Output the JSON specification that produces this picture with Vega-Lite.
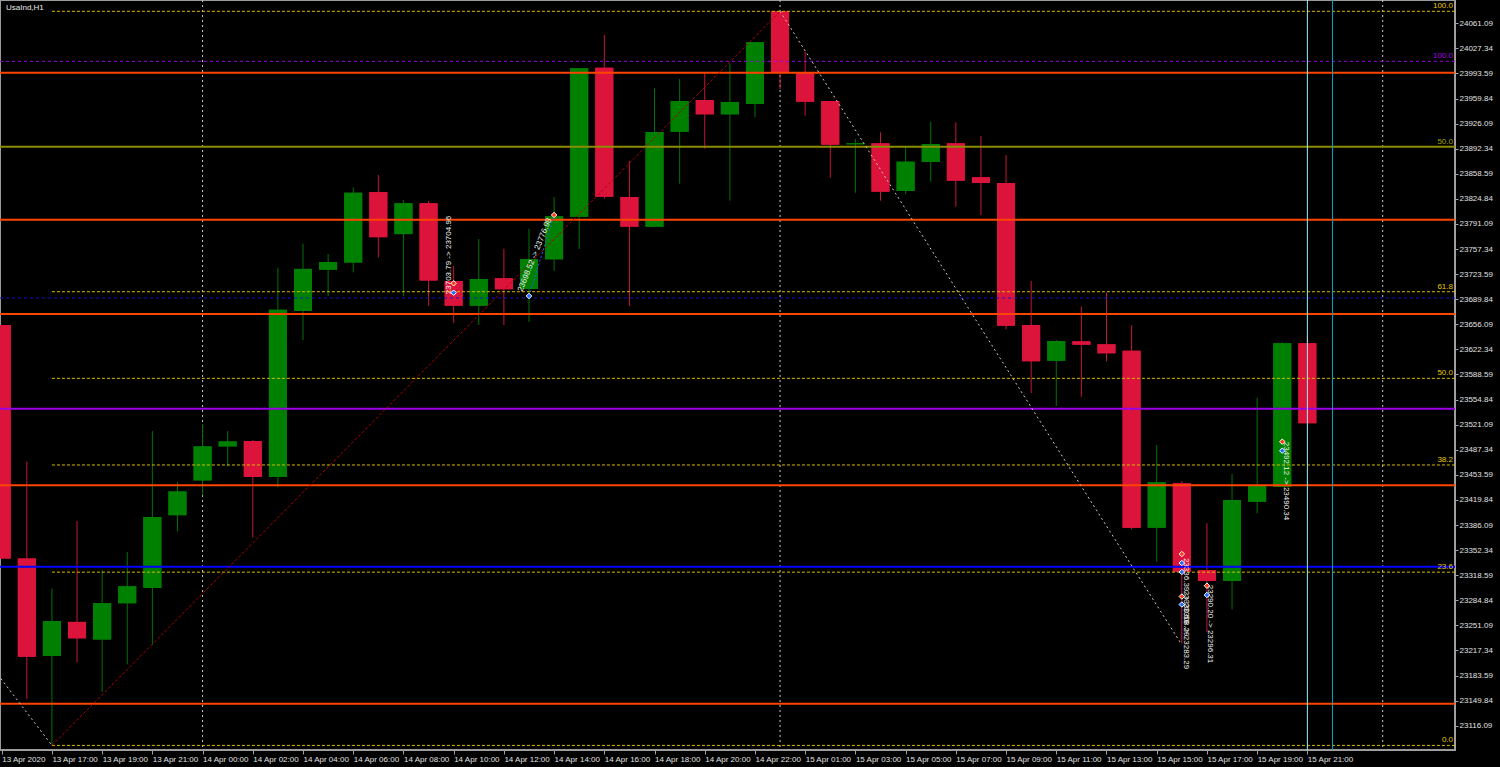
{
  "$schema": "https://vega.github.io/schema/vega-lite/v6.json",
  "width": 1455,
  "height": 750,
  "autosize": {"type": "none"},
  "padding": {"left": 0, "top": 0, "right": 45, "bottom": 17},
  "background": "#000000",
  "config": {
    "view": {"stroke": "#9A9A9A", "strokeWidth": 2, "fill": "#000000"},
    "axis": {"domainColor": "#A0A0A0", "tickColor": "#A0A0A0", "labelColor": "#E0E0E0", "labelFont": "Liberation Sans", "labelFontSize": 8, "grid": false, "labelOverlap": false, "labelSeparation": 0, "labelBound": false, "labelFlush": false}
  },
  "datasets": {
    "candles": [
      {"i":0,"o":23655.05,"h":23655.05,"l":23341.17,"c":23341.17,"d":"down"},
      {"i":1,"o":23341.17,"h":23471.27,"l":23152.27,"c":23208.92,"d":"down"},
      {"i":2,"o":23209.99,"h":23300.54,"l":23089.58,"c":23256.81,"d":"up"},
      {"i":3,"o":23255.74,"h":23391.49,"l":23201.25,"c":23233.67,"d":"down"},
      {"i":4,"o":23232.06,"h":23325.70,"l":23161.56,"c":23280.90,"d":"up"},
      {"i":5,"o":23280.90,"h":23349.91,"l":23198.69,"c":23303.63,"d":"up"},
      {"i":6,"o":23301.48,"h":23512.44,"l":23224.39,"c":23396.73,"d":"up"},
      {"i":7,"o":23399.29,"h":23443.55,"l":23377.63,"c":23431.18,"d":"up"},
      {"i":8,"o":23446.11,"h":23521.72,"l":23426.07,"c":23491.85,"d":"up"},
      {"i":9,"o":23491.85,"h":23512.44,"l":23464.68,"c":23498.58,"d":"up"},
      {"i":10,"o":23499.12,"h":23500.60,"l":23369.42,"c":23450.68,"d":"down"},
      {"i":11,"o":23450.68,"h":23732.14,"l":23436.83,"c":23675.63,"d":"up"},
      {"i":12,"o":23674.02,"h":23764.57,"l":23634.87,"c":23730.66,"d":"up"},
      {"i":13,"o":23729.59,"h":23750.71,"l":23694.07,"c":23739.95,"d":"up"},
      {"i":14,"o":23739.41,"h":23840.18,"l":23725.95,"c":23833.05,"d":"up"},
      {"i":15,"o":23833.99,"h":23857.13,"l":23746.00,"c":23773.31,"d":"down"},
      {"i":16,"o":23777.48,"h":23823.23,"l":23694.07,"c":23819.06,"d":"up"},
      {"i":17,"o":23819.06,"h":23822.15,"l":23680.75,"c":23715.05,"d":"down"},
      {"i":18,"o":23714.38,"h":23734.56,"l":23657.88,"c":23681.15,"d":"down"},
      {"i":19,"o":23681.15,"h":23770.89,"l":23655.18,"c":23717.07,"d":"up"},
      {"i":20,"o":23718.01,"h":23757.84,"l":23655.18,"c":23703.22,"d":"down"},
      {"i":21,"o":23703.62,"h":23784.34,"l":23659.22,"c":23743.98,"d":"up"},
      {"i":22,"o":23743.58,"h":23827.40,"l":23728.24,"c":23801.43,"d":"up"},
      {"i":23,"o":23800.89,"h":24000.55,"l":23757.44,"c":24000.55,"d":"up"},
      {"i":24,"o":24001.36,"h":24045.35,"l":23825.11,"c":23827.80,"d":"down"},
      {"i":25,"o":23827.40,"h":23875.83,"l":23680.75,"c":23787.44,"d":"down"},
      {"i":26,"o":23787.44,"h":23973.64,"l":23787.44,"c":23914.85,"d":"up"},
      {"i":27,"o":23915.25,"h":23986.15,"l":23845.29,"c":23956.55,"d":"up"},
      {"i":28,"o":23957.90,"h":23993.82,"l":23892.38,"c":23938.66,"d":"down"},
      {"i":29,"o":23938.66,"h":24007.28,"l":23822.42,"c":23955.21,"d":"up"},
      {"i":30,"o":23952.52,"h":24035.53,"l":23934.62,"c":24035.53,"d":"up"},
      {"i":31,"o":24077.24,"h":24077.24,"l":23972.30,"c":23994.63,"d":"down"},
      {"i":32,"o":23995.57,"h":24022.88,"l":23936.78,"c":23955.61,"d":"down"},
      {"i":33,"o":23956.55,"h":23956.55,"l":23853.36,"c":23897.76,"d":"down"},
      {"i":34,"o":23898.30,"h":23905.43,"l":23833.18,"c":23899.64,"d":"up"},
      {"i":35,"o":23899.64,"h":23914.44,"l":23822.42,"c":23834.53,"d":"down"},
      {"i":36,"o":23835.47,"h":23895.07,"l":23831.03,"c":23874.89,"d":"up"},
      {"i":37,"o":23874.49,"h":23928.70,"l":23847.98,"c":23898.70,"d":"up"},
      {"i":38,"o":23899.64,"h":23927.90,"l":23814.35,"c":23849.33,"d":"down"},
      {"i":39,"o":23853.90,"h":23909.47,"l":23803.18,"c":23846.23,"d":"down"},
      {"i":40,"o":23846.23,"h":23883.90,"l":23649.40,"c":23654.24,"d":"down"},
      {"i":41,"o":23655.18,"h":23714.38,"l":23563.29,"c":23606.35,"d":"down"},
      {"i":42,"o":23607.15,"h":23635.00,"l":23546.21,"c":23633.66,"d":"up"},
      {"i":43,"o":23633.25,"h":23679.81,"l":23558.72,"c":23628.68,"d":"down"},
      {"i":44,"o":23629.22,"h":23698.64,"l":23606.35,"c":23617.11,"d":"down"},
      {"i":45,"o":23620.61,"h":23654.78,"l":23380.32,"c":23382.47,"d":"down"},
      {"i":46,"o":23382.47,"h":23493.74,"l":23336.73,"c":23443.55,"d":"up"},
      {"i":47,"o":23442.21,"h":23445.30,"l":23226.94,"c":23323.27,"d":"down"},
      {"i":48,"o":23325.56,"h":23388.39,"l":23242.55,"c":23310.76,"d":"down"},
      {"i":49,"o":23310.76,"h":23454.72,"l":23272.69,"c":23419.74,"d":"up"},
      {"i":50,"o":23417.45,"h":23557.37,"l":23401.84,"c":23438.58,"d":"up"},
      {"i":51,"o":23437.63,"h":23631.91,"l":23437.63,"c":23630.56,"d":"up"},
      {"i":52,"o":23630.56,"h":23640.39,"l":23522.93,"c":23522.93,"d":"down"}
    ],
    "hlines": [
      {"p":23994.63,"k":"orange"},
      {"p":23796.86,"k":"orange"},
      {"p":23669.98,"k":"orange"},
      {"p":23439.52,"k":"orange"},
      {"p":23145.68,"k":"orange"},
      {"p":23895.07,"k":"olive"},
      {"p":23542.57,"k":"purple"},
      {"p":23330.00,"k":"blue"}
    ],
    "dlines": [
      {"p":24009.97,"k":"purple"},
      {"p":23691.51,"k":"blue"}
    ],
    "fib": [
      {"p":24077.24,"lv":"100.0"},
      {"p":23699.95,"lv":"61.8"},
      {"p":23583.41,"lv":"50.0"},
      {"p":23466.86,"lv":"38.2"},
      {"p":23322.67,"lv":"23.6"},
      {"p":23089.58,"lv":"0.0"}
    ],
    "flabels": [
      {"p":24077.24,"t":"100.0","k":"yellow"},
      {"p":24009.97,"t":"100.0","k":"purple"},
      {"p":23895.07,"t":"50.0","k":"olive"},
      {"p":23699.95,"t":"61.8","k":"yellow"},
      {"p":23583.41,"t":"50.0","k":"yellow"},
      {"p":23466.86,"t":"38.2","k":"yellow"},
      {"p":23322.67,"t":"23.6","k":"yellow"},
      {"p":23089.58,"t":"0.0","k":"yellow"}
    ],
    "seps": [{"i":8},{"i":31},{"i":55}],
    "vlines": [{"i":52,"k":"cyan"},{"i":53,"k":"teal"}],
    "trend": [
      {"id":"fibtrend","i":2,"p":23089.58},
      {"id":"fibtrend","i":31,"p":24077.24}
    ],
    "trend2": [
      {"id":"down","i":31,"p":24077.24},
      {"id":"down","i":46.93,"p":23228.7},
      {"id":"left","i":-1,"p":23222.2},
      {"id":"left","i":2,"p":23089.58}
    ],
    "tradeline": [
      {"i":21,"p":23694.2},
      {"i":22,"p":23803.18}
    ],
    "deals": [
      {"i":18,"p":23711.29,"s":"sell"},
      {"i":18,"p":23698.64,"s":"buy"},
      {"i":21,"p":23694.20,"s":"buy"},
      {"i":22,"p":23803.18,"s":"sell"},
      {"i":47,"p":23347.09,"s":"sell"},
      {"i":47,"p":23334.98,"s":"buy"},
      {"i":47,"p":23322.87,"s":"buy"},
      {"i":47,"p":23289.91,"s":"sell"},
      {"i":47,"p":23279.15,"s":"buy"},
      {"i":48,"p":23304.44,"s":"sell"},
      {"i":48,"p":23291.93,"s":"buy"},
      {"i":51,"p":23498.18,"s":"sell"},
      {"i":51,"p":23486.07,"s":"buy"}
    ],
    "notes": [
      {"i":17.83,"p":23749.4,"t":"23703.79 -> 23704.96","o":"up"},
      {"i":21.24,"p":23749.4,"t":"23698.52 -> 23776.98","o":"diag"},
      {"i":47.15,"p":23289.0,"t":"23336.39 -> 23308.29","o":"down"},
      {"i":47.15,"p":23245.0,"t":"23330.59 -> 23283.29","o":"down"},
      {"i":48.14,"p":23252.9,"t":"23290.20 -> 23296.31","o":"down"},
      {"i":51.15,"p":23445.3,"t":"23492.12 -> 23490.34","o":"down"}
    ],
    "caption": [{"t":"UsaInd,H1"}]
  },
  "resolve": {"scale": {"color": "independent"}},
  "layer": [
    {
      "data": {"name": "candles"},
      "mark": {"type": "bar", "size": 18, "orient": "vertical"},
      "encoding": {
        "x": {"field": "i", "type": "quantitative", "title": null, "scale": {"domain": [-0.068, 57.88], "nice": false, "zero": false, "padding": 0},
          "axis": {"title": null, "orient": "bottom", "tickCount": 60, "values": [0,2,4,6,8,10,12,14,16,18,20,22,24,26,28,30,32,34,36,38,40,42,44,46,48,50,52],
            "labelExpr": "['13 Apr 2020','13 Apr 17:00','13 Apr 19:00','13 Apr 21:00','14 Apr 00:00','14 Apr 02:00','14 Apr 04:00','14 Apr 06:00','14 Apr 08:00','14 Apr 10:00','14 Apr 12:00','14 Apr 14:00','14 Apr 16:00','14 Apr 18:00','14 Apr 20:00','14 Apr 22:00','15 Apr 01:00','15 Apr 03:00','15 Apr 05:00','15 Apr 07:00','15 Apr 09:00','15 Apr 11:00','15 Apr 13:00','15 Apr 15:00','15 Apr 17:00','15 Apr 19:00','15 Apr 21:00'][round(datum.value/2)]",
            "labelAlign": "left", "labelBaseline": "top", "labelPadding": 1, "labelDx": 1, "tickSize": 4, "labelOverlap": false, "labelFlush": false, "labelBound": false}},
        "y": {"field": "o", "type": "quantitative", "title": null, "scale": {"domain": [23083.39, 24092.44], "nice": false, "zero": false, "padding": 0},
          "axis": {"title": null, "orient": "right", "tickCount": 60, "values": [23116.09,23149.84,23183.59,23217.34,23251.09,23284.84,23318.59,23352.34,23386.09,23419.84,23453.59,23487.34,23521.09,23554.84,23588.59,23622.34,23656.09,23689.84,23723.59,23757.34,23791.09,23824.84,23858.59,23892.34,23926.09,23959.84,23993.59,24027.34,24061.09],
            "format": ".2f", "tickSize": 3, "labelPadding": 1, "labelOverlap": false, "labelFlush": false, "labelBound": false, "labelBaseline": "middle"}},
        "y2": {"field": "c"},
        "color": {"field": "d", "type": "nominal", "scale": {"domain": ["up", "down"], "range": ["#008000", "#DC143C"]}, "legend": null}
      }
    },
    {
      "data": {"name": "seps"},
      "mark": {"type": "rule", "color": "#C8C8C8", "strokeWidth": 1, "strokeDash": [2, 3]},
      "encoding": {
        "x": {"field": "i", "type": "quantitative", "title": null}
      }
    },
    {
      "data": {"name": "candles"},
      "mark": {"type": "rule", "strokeWidth": 1},
      "encoding": {
        "x": {"field": "i", "type": "quantitative", "title": null},
        "y": {"field": "l", "type": "quantitative", "title": null},
        "y2": {"field": "h"},
        "color": {"field": "d", "type": "nominal", "scale": {"domain": ["up", "down"], "range": ["#007400", "#C8143A"]}, "legend": null}
      }
    },
    {
      "data": {"name": "candles"},
      "mark": {"type": "bar", "size": 18, "orient": "vertical"},
      "encoding": {
        "x": {"field": "i", "type": "quantitative", "title": null},
        "y": {"field": "o", "type": "quantitative", "title": null},
        "y2": {"field": "c"},
        "color": {"field": "d", "type": "nominal", "scale": {"domain": ["up", "down"], "range": ["#008000", "#DC143C"]}, "legend": null}
      }
    },
    {
      "data": {"name": "hlines"},
      "mark": {"type": "rule", "strokeWidth": 2},
      "encoding": {
        "y": {"field": "p", "type": "quantitative", "title": null},
        "color": {"field": "k", "type": "nominal", "scale": {"domain": ["orange", "olive", "purple", "blue"], "range": ["#FF4500", "#8C8C00", "#9B00E6", "#0000FF"]}, "legend": null}
      }
    },
    {
      "data": {"name": "dlines"},
      "mark": {"type": "rule", "strokeWidth": 1, "strokeDash": [3, 3]},
      "encoding": {
        "y": {"field": "p", "type": "quantitative", "title": null},
        "color": {"field": "k", "type": "nominal", "scale": {"domain": ["purple", "blue"], "range": ["#9B00E6", "#1010D8"]}, "legend": null}
      }
    },
    {
      "data": {"name": "fib"},
      "mark": {"type": "rule", "strokeWidth": 1, "strokeDash": [3, 2], "color": "#D8BC00"},
      "encoding": {
        "x": {"datum": 2, "type": "quantitative", "title": null},
        "x2": {"datum": 57.88},
        "y": {"field": "p", "type": "quantitative", "title": null}
      }
    },
    {
      "data": {"name": "vlines"},
      "mark": {"type": "rule", "strokeWidth": 1},
      "encoding": {
        "x": {"field": "i", "type": "quantitative", "title": null},
        "color": {"field": "k", "type": "nominal", "scale": {"domain": ["cyan", "teal"], "range": ["#9FEFF5", "#00A8B8"]}, "legend": null}
      }
    },
    {
      "data": {"name": "trend"},
      "mark": {"type": "line", "strokeWidth": 1, "strokeDash": [3, 2], "color": "#B00000", "clip": true},
      "encoding": {
        "x": {"field": "i", "type": "quantitative", "title": null},
        "y": {"field": "p", "type": "quantitative", "title": null},
        "detail": {"field": "id"}
      }
    },
    {
      "data": {"name": "trend2"},
      "mark": {"type": "line", "strokeWidth": 1, "strokeDash": [2, 3], "color": "#D0CCC0", "clip": true},
      "encoding": {
        "x": {"field": "i", "type": "quantitative", "title": null},
        "y": {"field": "p", "type": "quantitative", "title": null},
        "detail": {"field": "id"}
      }
    },
    {
      "data": {"name": "tradeline"},
      "mark": {"type": "line", "strokeWidth": 1, "strokeDash": [2, 2], "color": "#2060FF"},
      "encoding": {
        "x": {"field": "i", "type": "quantitative", "title": null},
        "y": {"field": "p", "type": "quantitative", "title": null}
      }
    },
    {
      "data": {"name": "flabels"},
      "mark": {"type": "text", "align": "right", "baseline": "bottom", "dx": -2, "dy": -1, "font": "Liberation Sans", "fontSize": 8},
      "encoding": {
        "x": {"datum": 57.88, "type": "quantitative", "title": null},
        "y": {"field": "p", "type": "quantitative", "title": null},
        "text": {"field": "t"},
        "color": {"field": "k", "type": "nominal", "scale": {"domain": ["yellow", "purple", "olive"], "range": ["#E8C800", "#A000E8", "#A0A000"]}, "legend": null}
      }
    },
    {
      "data": {"name": "notes"},
      "transform": [{"filter": "datum.o == 'up'"}],
      "mark": {"type": "text", "angle": 270, "align": "center", "baseline": "middle", "font": "Liberation Sans", "fontSize": 8, "color": "#F0F0F0"},
      "encoding": {
        "x": {"field": "i", "type": "quantitative", "title": null},
        "y": {"field": "p", "type": "quantitative", "title": null},
        "text": {"field": "t"}
      }
    },
    {
      "data": {"name": "notes"},
      "transform": [{"filter": "datum.o == 'diag'"}],
      "mark": {"type": "text", "angle": 292, "align": "center", "baseline": "middle", "font": "Liberation Sans", "fontSize": 8, "color": "#F0F0F0"},
      "encoding": {
        "x": {"field": "i", "type": "quantitative", "title": null},
        "y": {"field": "p", "type": "quantitative", "title": null},
        "text": {"field": "t"}
      }
    },
    {
      "data": {"name": "notes"},
      "transform": [{"filter": "datum.o == 'down'"}],
      "mark": {"type": "text", "angle": 90, "align": "center", "baseline": "middle", "font": "Liberation Sans", "fontSize": 8, "color": "#F0F0F0"},
      "encoding": {
        "x": {"field": "i", "type": "quantitative", "title": null},
        "y": {"field": "p", "type": "quantitative", "title": null},
        "text": {"field": "t"}
      }
    },
    {
      "data": {"name": "deals"},
      "mark": {"type": "point", "shape": "diamond", "size": 30, "filled": true, "stroke": "#FFFFFF", "strokeWidth": 1, "opacity": 1},
      "encoding": {
        "x": {"field": "i", "type": "quantitative", "title": null},
        "y": {"field": "p", "type": "quantitative", "title": null},
        "fill": {"field": "s", "type": "nominal", "scale": {"domain": ["sell", "buy"], "range": ["#FF3A10", "#1E6CFF"]}, "legend": null}
      }
    },
    {
      "data": {"name": "caption"},
      "mark": {"type": "text", "align": "left", "baseline": "top", "dx": 6, "dy": 4, "font": "Liberation Sans", "fontSize": 8, "color": "#E8E8E8"},
      "encoding": {
        "x": {"datum": -0.068, "type": "quantitative", "title": null},
        "y": {"datum": 24092.44, "type": "quantitative", "title": null},
        "text": {"field": "t"}
      }
    }
  ]
}
